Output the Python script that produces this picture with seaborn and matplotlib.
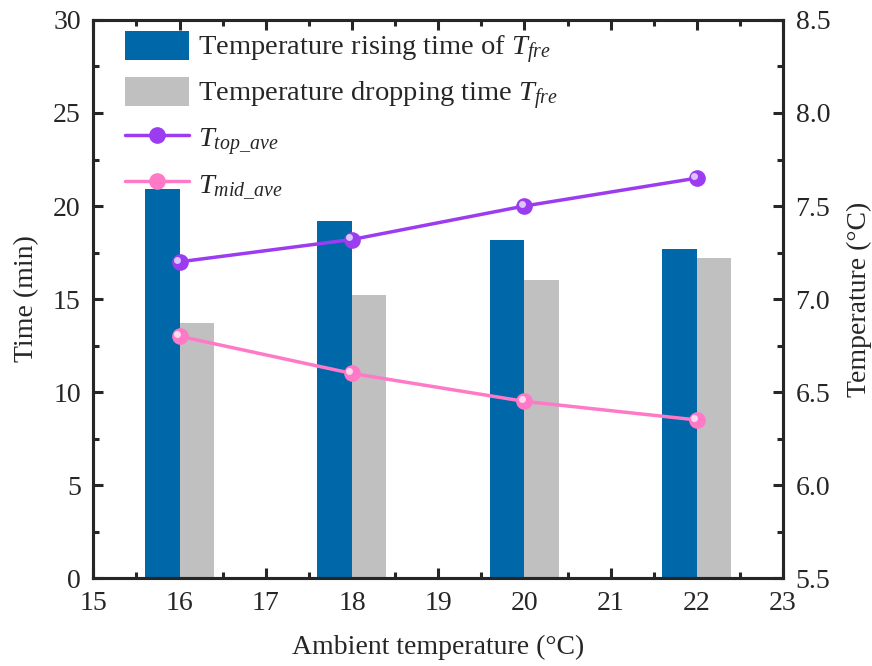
import matplotlib
matplotlib.use("Agg")
import matplotlib.pyplot as plt
import numpy as np
import pandas as pd
import seaborn as sns
from matplotlib.ticker import MultipleLocator, FormatStrFormatter
from matplotlib.patches import Patch
from matplotlib.lines import Line2D

# data
ambient = [16, 18, 20, 22]
rising_time = [20.9, 19.2, 18.2, 17.7]
dropping_time = [13.7, 15.2, 16.0, 17.2]
t_top_ave = [7.20, 7.32, 7.50, 7.65]
t_mid_ave = [6.80, 6.60, 6.45, 6.35]

blue = "#0067a8"
gray = "#c0c0c0"
purple = "#9b3cf0"
pink = "#ff7ac6"

sns.set_style("ticks")
plt.rcParams["font.family"] = ["Liberation Serif", "DejaVu Serif"]
plt.rcParams["mathtext.fontset"] = "custom"
plt.rcParams["mathtext.rm"] = "Liberation Serif"
plt.rcParams["mathtext.it"] = "Liberation Serif:italic"
plt.rcParams["font.size"] = 20

bars = pd.DataFrame({
    "ambient": ambient * 2,
    "time": rising_time + dropping_time,
    "kind": ["rise"] * 4 + ["drop"] * 4,
})

fig = plt.figure(figsize=(8.72, 6.66), dpi=100)
ax = fig.add_axes([0.107, 0.132, 0.791, 0.838])

sns.barplot(data=bars, x="ambient", y="time", hue="kind", native_scale=True,
            palette=[blue, gray], width=0.4, gap=0, dodge=True, ax=ax,
            legend=False, saturation=1, edgecolor="none")

ax2 = ax.twinx()
mk = dict(marker="o", markersize=12, markeredgewidth=0)
sns.lineplot(x=ambient, y=t_top_ave, color=purple, lw=2.5, ax=ax2, **mk)
sns.lineplot(x=ambient, y=t_mid_ave, color=pink, lw=2.5, ax=ax2, **mk)
# highlight on the spheres
ax2.plot(np.array(ambient) - 0.03, np.array(t_top_ave) + 0.012, "o", ms=5,
         color="#dcc4ff", mec="none")
ax2.plot(np.array(ambient) - 0.03, np.array(t_mid_ave) + 0.012, "o", ms=5,
         color="#ffd9ee", mec="none")

ax.set_xlim(15, 23)
ax.set_ylim(0, 30)
ax2.set_ylim(5.5, 8.5)
ax.xaxis.set_major_locator(MultipleLocator(1))
ax.xaxis.set_minor_locator(MultipleLocator(0.5))
ax.yaxis.set_major_locator(MultipleLocator(5))
ax.yaxis.set_minor_locator(MultipleLocator(2.5))
ax2.yaxis.set_major_locator(MultipleLocator(0.5))
ax2.yaxis.set_minor_locator(MultipleLocator(0.25))
ax2.yaxis.set_major_formatter(FormatStrFormatter("%.1f"))

for a in (ax, ax2):
    for s in a.spines.values():
        s.set_linewidth(2.2)
        s.set_visible(True)
    a.tick_params(which="both", direction="in", width=2.2, labelsize=20, pad=9)
    a.tick_params(which="major", length=7)
    a.tick_params(which="minor", length=4)
ax.tick_params(which="both", top=True)

ax.set_xlabel("Ambient temperature (°C)", fontsize=20, labelpad=14)
ax.set_ylabel("Time (min)", fontsize=20, labelpad=10)
ax2.set_ylabel("Temperature (°C)", fontsize=20, labelpad=12)

handles = [
    Patch(facecolor=blue, edgecolor="none"),
    Patch(facecolor=gray, edgecolor="none"),
    Line2D([], [], color=purple, lw=2.5, **mk),
    Line2D([], [], color=pink, lw=2.5, **mk),
]
labels = [
    r"Temperature rising time of $T_{fre}$",
    r"Temperature dropping time $T_{fre}$",
    r"$T_{top\_ave}$",
    r"$T_{mid\_ave}$",
]
ax2.legend(handles, labels, loc="upper left", bbox_to_anchor=(0.04, 0.988),
           frameon=False, fontsize=20.5, handlelength=2.25, handleheight=1.2,
           labelspacing=0.38, borderaxespad=0, borderpad=0.15,
           handletextpad=0.3)

fig.savefig("out.png", dpi=100)
